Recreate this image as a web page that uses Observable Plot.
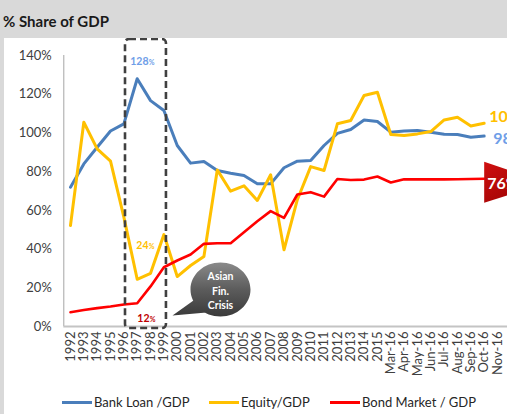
<!DOCTYPE html>
<html>
<head>
<meta charset="utf-8">
<script src="https://cdn.jsdelivr.net/npm/d3@7"></script>
<script src="https://cdn.jsdelivr.net/npm/@observablehq/plot@0.6"></script>
<style>
  html, body { margin: 0; padding: 0; }
  body { width: 507px; height: 414px; overflow: hidden; background: #d9d9d9; position: relative; font-family: Lato, "Open Sans", sans-serif; }
  #title { position: absolute; left: 3px; top: 12px; font-size: 15px; line-height: 18px; font-weight: bold; color: #1a1a1a; }
  #panel { position: absolute; left: 4px; top: 38px; width: 503px; height: 376px; background: white; overflow: hidden; }
  #legend { position: absolute; left: 0; top: 355px; width: 503px; height: 18px; font-size: 13px; color: #262626; }
  .item { position: absolute; top: 0; height: 18px; line-height: 18px; white-space: nowrap; }
  .sw { display: inline-block; width: 30px; height: 3px; vertical-align: middle; margin-right: 2px; position: relative; top: -1px; }
</style>
</head>
<body>
<div id="title">% Share of GDP</div>
<div id="panel">
  <div id="chart"></div>
  <div id="legend"></div>
</div>
<script>
const categories = ["1992","1993","1994","1995","1996","1997","1998","1999","2000","2001","2002","2003","2004","2005","2006","2007","2008","2009","2010","2011","2012","2013","2014","2015","Mar-16","Apr-16","May-16","Jun-16","Jul-16","Aug-16","Sep-16","Oct-16","Nov-16"];
const bankLoan = [72, 84, 92.6, 101, 104.7, 128, 116.7, 111.6, 93.5, 84.4, 85.2, 80.6, 79.2, 78, 73.7, 73.7, 82, 85.4, 85.7, 93.5, 99.8, 101.8, 106.7, 105.9, 100.4, 101, 101.2, 100.4, 99.3, 99.2, 97.8, 98.4];
const equity = [52.2, 105.5, 91.8, 85.4, 56.5, 24.4, 27.5, 47.5, 25.8, 31.5, 36.2, 80.9, 69.9, 72.7, 65.1, 78.4, 39.6, 65.5, 82.6, 80.6, 104.7, 106.4, 119.3, 121, 99.2, 98.7, 99.5, 100.7, 106.7, 108.1, 103.6, 105];
const bondMarket = [7.4, 8.5, 9.5, 10.3, 11.4, 12, 20.7, 30.6, 34.1, 37.2, 42.7, 43, 43, 48.7, 54.4, 59.6, 56.1, 68.2, 69.4, 67.1, 76.2, 75.7, 75.9, 77.5, 74.4, 76.1, 76, 76, 76, 76.1, 76.2, 76.3];
const seriesNames = ["Bank Loan /GDP", "Equity/GDP", "Bond Market / GDP"];
const seriesColors = ["#4a7ebb", "#ffc000", "#ff0000"];
const yTicks = [0, 20, 40, 60, 80, 100, 120, 140];
const crisisYears = ["1997", "1998"];
const crisisLabel = "Asian\nFin.\nCrisis";

const seriesValues = [bankLoan, equity, bondMarket];
const rows = [];
seriesValues.forEach((vals, s) => vals.forEach((v, i) => rows.push({i, cat: categories[i], series: seriesNames[s], value: v})));
const idx = c => categories.indexOf(c);
const pt = (vals, c) => ({i: idx(c), value: vals[idx(c)]});
const lastIdx = bankLoan.length - 1;
const last = vals => ({i: lastIdx, value: vals[lastIdx]});

const font = "Lato, 'Open Sans', sans-serif";

const flagSymbol = { draw(ctx) { ctx.moveTo(0, -17); ctx.lineTo(62, 4); ctx.lineTo(0, 24); ctx.closePath(); } };
const k = 0.5523, rx = 30, ry = 27;
const bubbleSymbol = { draw(ctx) {
  ctx.moveTo(rx, 0);
  ctx.bezierCurveTo(rx, k*ry, k*rx, ry, 0, ry);
  ctx.bezierCurveTo(-k*rx, ry, -rx, k*ry, -rx, 0);
  ctx.bezierCurveTo(-rx, -k*ry, -k*rx, -ry, 0, -ry);
  ctx.bezierCurveTo(k*rx, -ry, rx, -k*ry, rx, 0);
  ctx.closePath();
  ctx.moveTo(-14, 23);
  ctx.lineTo(-48, 26);
  ctx.lineTo(-27, 11);
  ctx.closePath();
} };

const peakCat = crisisYears[0];
const callouts = [
  {vals: bankLoan, color: "#6f9ee8", dx: 11.3, dy: -13.5},
  {vals: equity, color: "#ffc000", dx: 11.3, dy: -30},
  {vals: bondMarket, color: "#c00000", dx: 12.3, dy: 18.5}
];
const calloutMarks = callouts.flatMap(c => [
  Plot.text([pt(c.vals, peakCat)], {x: "i", y: "value", text: d => String(Math.round(d.value)), textAnchor: "end", lineAnchor: "bottom", dx: c.dx, dy: c.dy, fill: c.color, fontSize: 10.5, fontWeight: "bold"}),
  Plot.text([pt(c.vals, peakCat)], {x: "i", y: "value", text: () => "%", textAnchor: "start", lineAnchor: "bottom", dx: c.dx + 0.3, dy: c.dy, fill: c.color, fontSize: 7, fontWeight: "bold"})
]);

const chart = Plot.plot({
  width: 503,
  height: 345,
  marginLeft: 59.3,
  marginRight: 3.3,
  marginTop: 17,
  marginBottom: 57,
  x: {type: "linear", domain: [-0.5, categories.length - 0.5], axis: null},
  y: {domain: [0, 140], axis: null},
  color: {domain: seriesNames, range: seriesColors},
  style: {fontFamily: font, fontSize: "13px", color: "#404040", background: "white", overflow: "visible"},
  marks: [
    Plot.ruleX([-0.5], {stroke: "#a6a6a6", strokeWidth: 1}),
    Plot.ruleY([0], {stroke: "#c4c4c4", strokeWidth: 2, insetRight: -4}),
    Plot.axisY({ticks: yTicks, tickFormat: d => d + "%", tickSize: 0, tickPadding: 12, fontSize: 13, fill: "#404040", label: null}),
    Plot.axisX({ticks: d3.range(categories.length), tickFormat: i => categories[i], tickRotate: -90, tickSize: 0, tickPadding: 5, fontSize: 13, fill: "#404040", label: null}),
    Plot.line(rows, {x: "i", y: "value", z: "series", stroke: "series", strokeWidth: d => d.series === seriesNames[2] ? 2.6 : 3, strokeLinejoin: "round"}),
    Plot.rect([crisisYears], {x1: d => idx(d[0]), x2: d => idx(d[1]), y1: 0, y2: 140, insetLeft: -11.7, insetRight: -15.9, insetTop: -16, insetBottom: -2, rx: 4, fill: "none", stroke: "#404040", strokeWidth: 2.6, strokeDasharray: "7,4"}),
    ...calloutMarks,
    Plot.text([last(equity)], {x: "i", y: "value", text: d => String(Math.round(d.value)), textAnchor: "start", dx: 5, dy: -6, fill: "#ffc000", fontSize: 16, fontWeight: "bold"}),
    Plot.text([last(bankLoan)], {x: "i", y: "value", text: d => String(Math.round(d.value)), textAnchor: "start", dx: 9, dy: 2.5, fill: "#6f9ee8", fontSize: 16, fontWeight: "bold"}),
    Plot.dot([last(bondMarket)], {x: "i", y: "value", symbol: flagSymbol, fill: "url(#flagGrad)", stroke: "none"}),
    Plot.text([last(bondMarket)], {x: "i", y: "value", text: d => Math.round(d.value) + "%", textAnchor: "start", dx: 3, dy: 5, fill: "white", fontSize: 16, fontWeight: "bold"}),
    Plot.dot([crisisLabel], {frameAnchor: "bottom-left", dx: 156.7, dy: -37, symbol: bubbleSymbol, fill: "url(#bubbleGrad)", stroke: "none"}),
    Plot.text([crisisLabel], {frameAnchor: "bottom-left", dx: 156.7, dy: -36.3, lineAnchor: "middle", textAnchor: "middle", text: d => d, fill: "white", fontSize: 10.5, fontWeight: "bold", lineHeight: 1.38})
  ]
});

const ns = "http://www.w3.org/2000/svg";
const defs = document.createElementNS(ns, "defs");
defs.innerHTML = `
  <linearGradient id="bubbleGrad" x1="0" y1="0" x2="0" y2="1">
    <stop offset="0" stop-color="#8a8a8a"/><stop offset="0.5" stop-color="#5c5c5c"/><stop offset="1" stop-color="#3a3a3a"/>
  </linearGradient>
  <linearGradient id="flagGrad" x1="0" y1="0" x2="1" y2="1">
    <stop offset="0" stop-color="#d01010"/><stop offset="1" stop-color="#8e0000"/>
  </linearGradient>`;
chart.insertBefore(defs, chart.firstChild);
document.getElementById("chart").appendChild(chart);

const legendPos = [58, 205, 326];
const legend = document.getElementById("legend");
seriesNames.forEach((name, s) => {
  const item = document.createElement("div");
  item.className = "item";
  item.style.left = legendPos[s] + "px";
  const sw = document.createElement("span");
  sw.className = "sw";
  sw.style.background = seriesColors[s];
  item.appendChild(sw);
  item.appendChild(document.createTextNode(name));
  legend.appendChild(item);
});
</script>
</body>
</html>
